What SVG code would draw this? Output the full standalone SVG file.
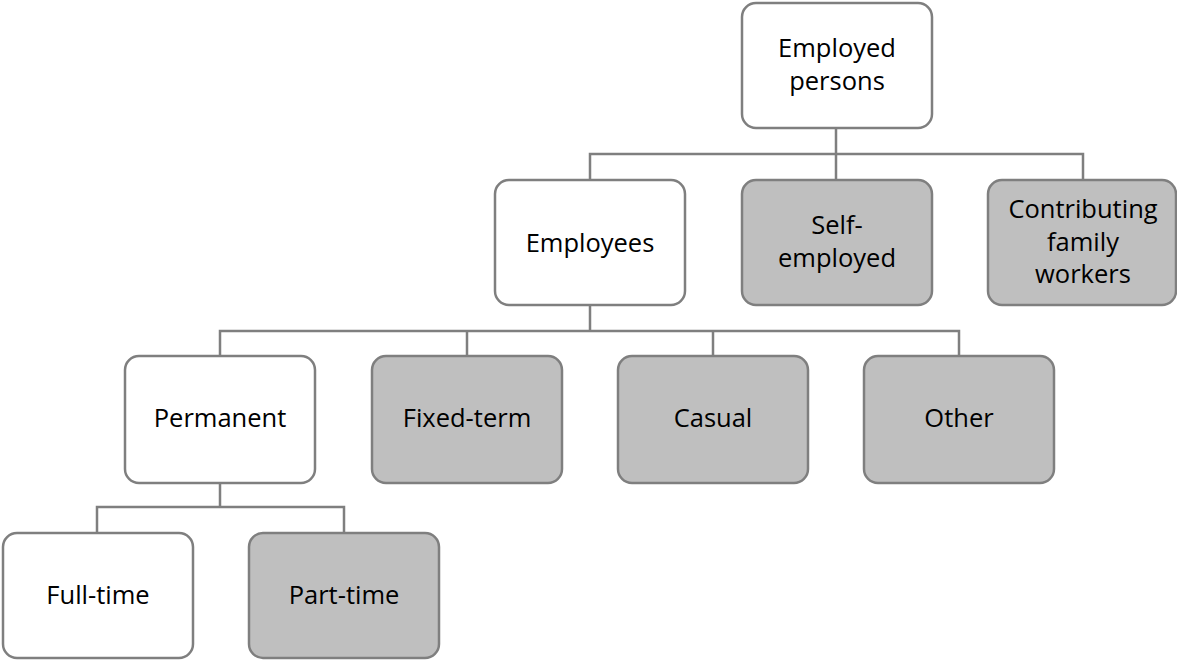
<svg xmlns="http://www.w3.org/2000/svg" width="1177" height="660" viewBox="0 0 1177 660">
  <style>
    .box { stroke: #7f7f7f; stroke-width: 2.5; }
    .light { fill: #ffffff; }
    .dark { fill: #bfbfbf; }
    .lbl { font-family: "Open Sans", "Liberation Sans", sans-serif; font-size: 25.5px; fill: #000000; text-anchor: middle; }
    .conn { fill: none; stroke: #7f7f7f; stroke-width: 2.5; }
  </style>
  <rect width="1177" height="660" fill="#ffffff"/>

  <g id="connectors">
    <!-- Employed persons to its three groups -->
    <path class="conn" d="M836 128 V180 M590 180 V154 H1083 V180"/>
    <!-- Employees to contract types -->
    <path class="conn" d="M590 305 V331 M220 356 V331 H959 V356 M467 331 V356 M713 331 V356"/>
    <!-- Permanent to working hours -->
    <path class="conn" d="M220 483 V507 M97 533 V507 H344 V533"/>
  </g>

  <g id="employed-persons">
    <rect class="box light" x="742" y="3" width="190" height="125" rx="14"/>
    <text class="lbl" x="837" y="57">Employed</text>
    <text class="lbl" x="837" y="90">persons</text>
  </g>

  <g id="employees">
    <rect class="box light" x="495" y="180" width="190" height="125" rx="14"/>
    <text class="lbl" x="590" y="252">Employees</text>
  </g>

  <g id="self-employed">
    <rect class="box dark" x="742" y="180" width="190" height="125" rx="14"/>
    <text class="lbl" x="837" y="234">Self-</text>
    <text class="lbl" x="837" y="267">employed</text>
  </g>

  <g id="contributing-family-workers">
    <rect class="box dark" x="988" y="180" width="188" height="125" rx="14"/>
    <text class="lbl" x="1083" y="218">Contributing</text>
    <text class="lbl" x="1083" y="251">family</text>
    <text class="lbl" x="1083" y="283">workers</text>
  </g>

  <g id="permanent">
    <rect class="box light" x="125" y="356" width="190" height="127" rx="14"/>
    <text class="lbl" x="220" y="427">Permanent</text>
  </g>

  <g id="fixed-term">
    <rect class="box dark" x="372" y="356" width="190" height="127" rx="14"/>
    <text class="lbl" x="467" y="427">Fixed-term</text>
  </g>

  <g id="casual">
    <rect class="box dark" x="618" y="356" width="190" height="127" rx="14"/>
    <text class="lbl" x="713" y="427">Casual</text>
  </g>

  <g id="other">
    <rect class="box dark" x="864" y="356" width="190" height="127" rx="14"/>
    <text class="lbl" x="959" y="427">Other</text>
  </g>

  <g id="full-time">
    <rect class="box light" x="3" y="533" width="190" height="125" rx="14"/>
    <text class="lbl" x="98" y="604">Full-time</text>
  </g>

  <g id="part-time">
    <rect class="box dark" x="249" y="533" width="190" height="125" rx="14"/>
    <text class="lbl" x="344" y="604">Part-time</text>
  </g>
</svg>
